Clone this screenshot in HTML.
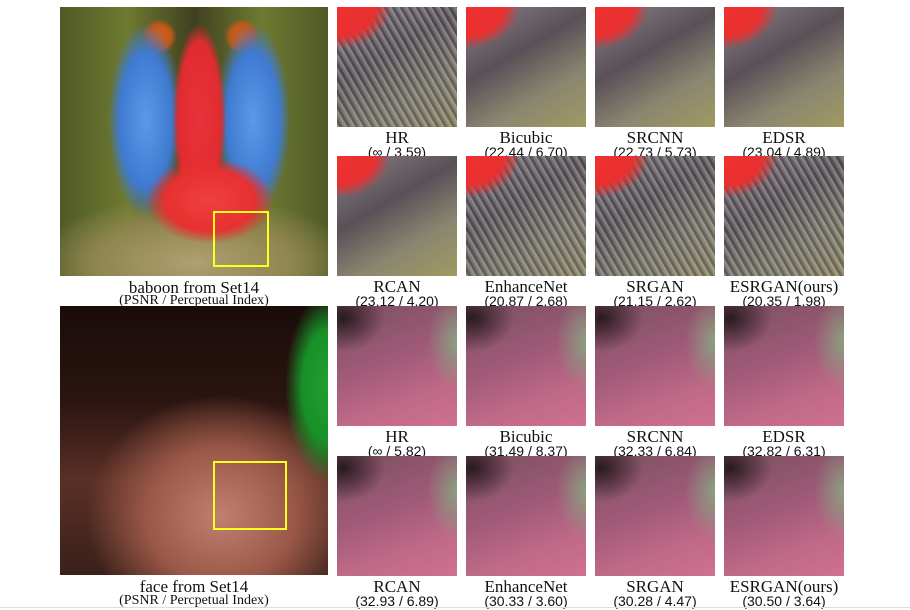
<!DOCTYPE html>
<html><head><meta charset="utf-8"><style>
body{margin:0;width:910px;height:610px;background:#fff;position:relative;overflow:hidden;font-family:"Liberation Serif",serif}
.im{position:absolute;overflow:hidden}
.t{position:absolute;width:120px;height:120px}
.cap{position:absolute;width:160px;text-align:center;color:#111;line-height:1}
.c1{font-size:17px}
.c2{font-size:14px;font-family:"Liberation Sans",sans-serif}
.bab{background:
 radial-gradient(ellipse 24% 16% at 56% 72%,#f04040 0,#e83030 70%,transparent 100%),
 radial-gradient(ellipse 10% 36% at 52% 42%,#e8323a 0,#e02c30 80%,transparent 100%),
 radial-gradient(ellipse 14% 36% at 32% 42%,#5a9ae8 0,#3f7ad0 70%,transparent 100%),
 radial-gradient(ellipse 14% 36% at 72% 42%,#5a9ae8 0,#3f7ad0 70%,transparent 100%),
 radial-gradient(circle at 37% 11%,#d06020 0,#c05818 4%,transparent 6%),
 radial-gradient(circle at 68% 11%,#d06020 0,#c05818 4%,transparent 6%),
 radial-gradient(ellipse 60% 25% at 50% 95%,#b0a070 0,#908650 60%,transparent 100%),
 linear-gradient(90deg,#505a28,#6e7a30 25%,#404020 50%,#6e7a30 75%,#505a28);}
.face{background:
 radial-gradient(ellipse 16% 35% at 100% 30%,#20a030 0,#189028 60%,transparent 100%),
 radial-gradient(ellipse 50% 45% at 60% 78%,#c08070 0,#9a5848 55%,transparent 100%),
 linear-gradient(180deg,#1a0c0a,#2a1410 35%,#5a3026 65%,#3a201a);}
.bt{background:
 radial-gradient(ellipse 45% 35% at 0% 0%,#f03030 0,#e83030 70%,transparent 100%),
 repeating-linear-gradient(60deg,rgba(160,165,170,.55) 0 2px,rgba(70,60,70,.5) 2px 5px,rgba(130,130,120,.5) 5px 7px),
 linear-gradient(150deg,#8a8088,#5a5058 40%,#8a8670 70%,#a09a60);}
.bt2{background:
 radial-gradient(ellipse 45% 35% at 0% 0%,#f03030 0,#e83030 70%,transparent 100%),
 linear-gradient(150deg,#8a8088,#5a5058 40%,#8a8670 70%,#a09a60);}
.ft{background:
 radial-gradient(ellipse 35% 28% at 5% 10%,#2a1a20 0,transparent 100%),
 radial-gradient(ellipse 25% 40% at 100% 30%,#8aa080 0,transparent 100%),
 linear-gradient(160deg,#7a5060,#a05a78 45%,#c06a88 75%,#d07090);}
.box{position:absolute;border:2px solid #ffff20}
</style></head><body>
<div class="im bab" style="left:60px;top:7px;width:268px;height:269px"><div class="box" style="left:153px;top:204px;width:52px;height:52px"></div></div>
<div class="cap c1" style="left:114px;top:279px">baboon from Set14</div>
<div class="cap c2" style="left:94px;top:294px;width:200px;font-family:'Liberation Serif',serif">(PSNR / Percpetual Index)</div>

<div class="im face" style="left:60px;top:306px;width:268px;height:269px"><div class="box" style="left:153px;top:155px;width:70px;height:65px"></div></div>
<div class="cap c1" style="left:114px;top:578px">face from Set14</div>
<div class="cap c2" style="left:94px;top:594px;width:200px;font-family:'Liberation Serif',serif">(PSNR / Percpetual Index)</div>

<div id="tiles"></div>
<div style="position:absolute;left:0;top:607px;width:910px;height:1px;background:#ddd"></div>
<script>
const xs=[337,466,595,724];
const rowsY=[7,156,306,456];
const names=[["HR","Bicubic","SRCNN","EDSR"],["RCAN","EnhanceNet","SRGAN","ESRGAN(ours)"],["HR","Bicubic","SRCNN","EDSR"],["RCAN","EnhanceNet","SRGAN","ESRGAN(ours)"]];
const vals=[["(∞ / 3.59)","(22.44 / 6.70)","(22.73 / 5.73)","(23.04 / 4.89)"],["(23.12 / 4.20)","(20.87 / 2.68)","(21.15 / 2.62)","(20.35 / 1.98)"],["(∞ / 5.82)","(31.49 / 8.37)","(32.33 / 6.84)","(32.82 / 6.31)"],["(32.93 / 6.89)","(30.33 / 3.60)","(30.28 / 4.47)","(30.50 / 3.64)"]];
const sharp=[[1,0,0,0],[0,1,1,1]];
const host=document.getElementById('tiles');
rowsY.forEach((y,r)=>xs.forEach((x,c)=>{
 const t=document.createElement('div');
 t.className='t '+(r<2?(sharp[r][c]?'bt':'bt2'):'ft');
 t.style.left=x+'px';t.style.top=y+'px';
 
 
 host.appendChild(t);
 const a=document.createElement('div');
 a.className='cap c1';a.style.left=(x-20)+'px';a.style.top=(y+122)+'px';a.textContent=names[r][c];
 
 
 host.appendChild(a);
 const b=document.createElement('div');
 b.className='cap c2';b.style.left=(x-20)+'px';b.style.top=(y+138)+'px';b.textContent=vals[r][c];
 
 
 host.appendChild(b);
}));
</script>
</body></html>
